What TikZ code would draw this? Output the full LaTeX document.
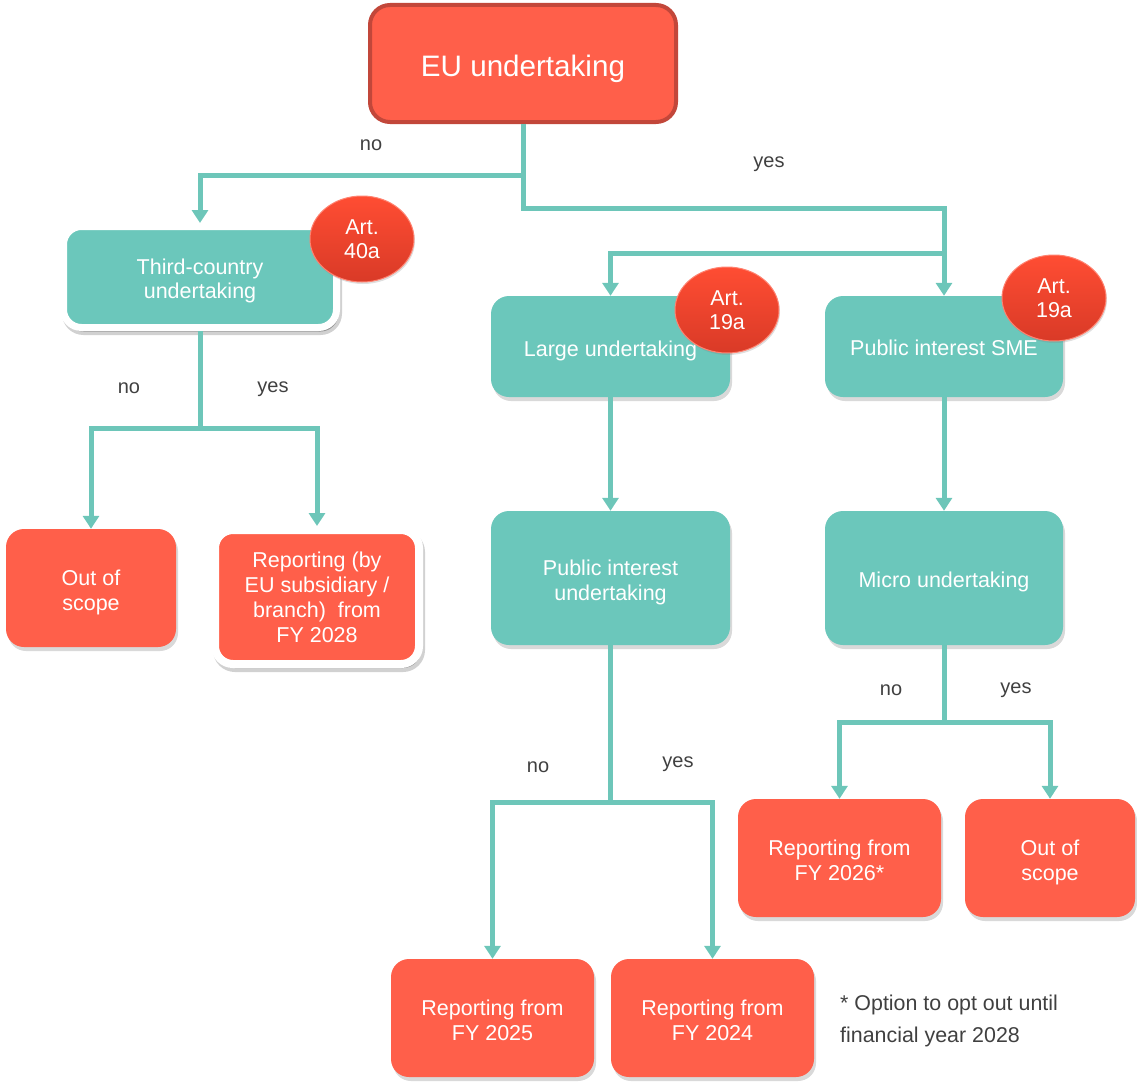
\documentclass[tikz,border=0pt]{standalone}
\usepackage{fontspec}
\setmainfont{Liberation Sans}
\usetikzlibrary{arrows.meta,shapes.geometric,shadows}
\definecolor{boxred}{HTML}{FF5F4A}
\definecolor{eubord}{HTML}{C2473A}
\definecolor{teal}{HTML}{6BC7BB}
\definecolor{conn}{HTML}{6DC6B9}
\definecolor{lbl}{HTML}{404040}
\definecolor{badgetop}{HTML}{FF4D33}
\definecolor{badgebot}{HTML}{D93A27}
\tikzset{
  base/.style={rectangle, rounded corners=18pt, inner sep=2pt,
    drop shadow={shadow xshift=2pt, shadow yshift=-4pt, opacity=0.3}},
  redbox/.style={base, fill=boxred},
  tealbox/.style={base, fill=teal},
  whiteframe/.style={draw=white, line width=#1,
    preaction={draw=black, fill=black, opacity=0.18, line width=#1,
      transform canvas={xshift=2pt, yshift=-4pt}}},
  txt/.style={text=white, align=center, inner sep=0pt,
    font=\fontsize{21.5}{25}\selectfont, yshift=#1},
  txt/.default=-4pt,
  badge/.style={ellipse, inner sep=0pt, minimum width=104pt, minimum height=86pt,
    top color=badgetop, bottom color=badgebot, draw=badgetop!70!white, line width=1pt,
    text=white, align=center, font=\fontsize{21.5}{24.5}\selectfont,
    drop shadow={shadow xshift=1pt, shadow yshift=-2pt, opacity=0.25}},
  conn/.style={draw=conn, line width=5pt, line join=miter},
  arr/.style={conn, -{Triangle[width=16pt,length=13pt]}},
  lab/.style={text=lbl, font=\fontsize{20}{24}\selectfont, yshift=-2.5pt}
}
\begin{document}
\begin{tikzpicture}[x=1pt,y=-1pt]
\useasboundingbox (0,0) rectangle (1137,1081);
% nodes
\node[rectangle, rounded corners=20pt, fill=boxred, draw=eubord, line width=4pt,
  minimum width=306pt, minimum height=117pt,
  label={[txt=-5pt, font=\fontsize{29.6}{33}\selectfont]center:EU undertaking}]
  (eu) at (523,63.5) {};
\node[tealbox, whiteframe=7pt, minimum width=273pt, minimum height=101pt,
  label={[txt=-4pt, font=\fontsize{21.5}{24}\selectfont]center:Third-country\\undertaking}]
  (third) at (200,277) {};
\node[tealbox, minimum width=239pt, minimum height=101pt,
  label={[txt=-4pt]center:Large undertaking}] (large) at (610.5,346.5) {};
\node[tealbox, minimum width=238pt, minimum height=101pt,
  label={[txt=-1.5pt]center:Public interest SME}] (pisme) at (944,346.5) {};
\node[tealbox, minimum width=239pt, minimum height=134pt,
  label={[txt=-4.5pt]center:Public interest\\undertaking}] (piu) at (610.5,578) {};
\node[tealbox, minimum width=238pt, minimum height=134pt,
  label={[txt=-4pt]center:Micro undertaking}] (micro) at (944,578) {};
\node[redbox, minimum width=170pt, minimum height=118pt,
  label={[txt=-4.5pt]center:Out of\\scope}] (outl) at (91,588) {};
\node[redbox, whiteframe=8pt, minimum width=204pt, minimum height=134pt,
  label={[txt=0pt]center:Reporting (by\\EU subsidiary /\\branch)\ \ from\\FY 2028}]
  (rep28) at (317,597) {};
\node[redbox, minimum width=203pt, minimum height=118pt,
  label={[txt=-2pt]center:Reporting from\\FY 2025}] (rep25) at (492.5,1018) {};
\node[redbox, minimum width=203pt, minimum height=118pt,
  label={[txt=-2pt]center:Reporting from\\FY 2024}] (rep24) at (712.5,1018) {};
\node[redbox, minimum width=203pt, minimum height=118pt,
  label={[txt=-2pt]center:Reporting from\\FY 2026*}] (rep26) at (839.5,858) {};
\node[redbox, minimum width=170pt, minimum height=118pt,
  label={[txt=-4.5pt]center:Out of\\scope}] (outr) at (1050,858) {};
% badges
\node[badge] (b40) at (362,239) {Art.\\40a};
\node[badge] (b19l) at (727,310) {Art.\\19a};
\node[badge] (b19r) at (1054,298) {Art.\\19a};
% connectors
\coordinate (j1) at (944,253);
\coordinate (j2) at (200,428);
\coordinate (j3) at (610.5,802);
\coordinate (j4) at (944,722);
\draw[arr] (eu.south) -- ++(0,51) -| (third.north);
\draw[arr] (eu.south) -- ++(0,84) -| (pisme.north);
\draw[arr] (j1) -| (large.north);
\draw[conn] (third.south) -- (j2);
\draw[arr] (j2) -| (outl.north);
\draw[arr] (j2) -| (rep28.north);
\draw[arr] (large.south) -- (piu.north);
\draw[arr] (pisme.south) -- (micro.north);
\draw[conn] (piu.south) -- (j3);
\draw[arr] (j3) -| (rep25.north);
\draw[arr] (j3) -| (rep24.north);
\draw[conn] (micro.south) -- (j4);
\draw[arr] (j4) -| (rep26.north);
\draw[arr] (j4) -| (outr.north);
% labels
\node[lab] (no1) at (371,143) {no};
\node[lab] (yes1) at (769,162) {yes};
\node[lab] (no2) at (129,386) {no};
\node[lab] (yes2) at (273,387) {yes};
\node[lab] (no3) at (538,765) {no};
\node[lab] (yes3) at (678,762) {yes};
\node[lab] (no4) at (891,688) {no};
\node[lab] (yes4) at (1016,688) {yes};
\node[text=lbl, anchor=west, align=left, font=\fontsize{21.4}{32}\selectfont, inner sep=0pt]
  (note) at (840,1021) {* Option to opt out until\\financial year 2028};
\end{tikzpicture}
\end{document}
